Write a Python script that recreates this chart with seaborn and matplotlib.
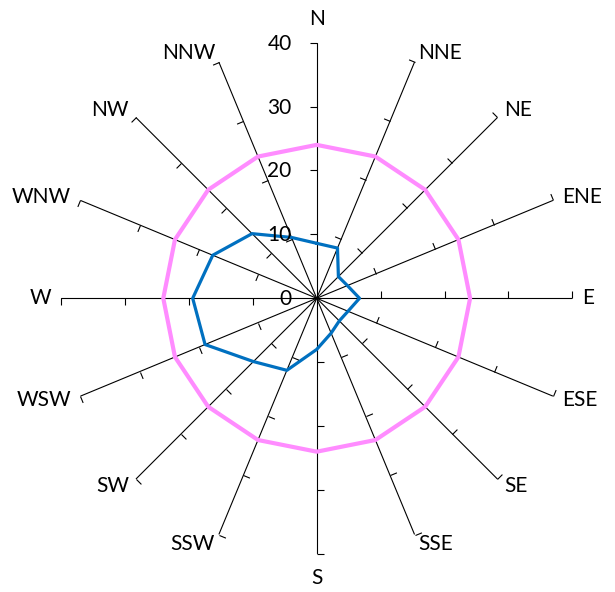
import numpy as np
import pandas as pd
import matplotlib
matplotlib.use("Agg")
import matplotlib.pyplot as plt
from matplotlib.markers import MarkerStyle
from matplotlib.path import Path
from matplotlib.transforms import Affine2D, offset_copy
import seaborn as sns

# ------------------ DATA ------------------
directions = ["N", "NNE", "NE", "ENE", "E", "ESE", "SE", "SSE",
              "S", "SSW", "SW", "WSW", "W", "WNW", "NW", "NNW"]
blue_vals = [8.6, 8.5, 4.8, 5.2, 6.7, 5.3, 5.0, 5.9,
             8.0, 12.2, 14.0, 18.9, 19.4, 17.6, 14.3, 10.3]
pink_vals = [24, 24, 24, 24, 24, 24, 24, 24,
             24, 24, 24, 24, 24, 24, 24, 24]
r_ticks = [0, 10, 20, 30, 40]

# ------------------ STYLE ------------------
sns.set_theme(style="white")
plt.rcParams["font.family"] = ["Lato", "DejaVu Sans"]

fig = plt.figure(figsize=(6.15, 5.92), dpi=100)
ax = fig.add_axes([0.0992, 0.0642, 0.8315, 0.8639], projection="polar")
ax.set_theta_zero_location("N")
ax.set_theta_direction(-1)
ax.set_ylim(0, 40)

angles = np.arange(len(directions)) * 2 * np.pi / len(directions)

# spokes from the theta grid
ax.set_xticks(angles)
ax.set_xticklabels([])
ax.set_yticks([])
ax.xaxis.grid(True, color="black", lw=0.8)
ax.tick_params(axis="x", length=0)
ax.spines["polar"].set_visible(False)
ax.patch.set_visible(False)

# ------------------ SERIES ------------------
def closed(vals):
    return pd.DataFrame({"theta": np.append(angles, 2 * np.pi),
                         "r": list(vals) + [vals[0]]})

sns.lineplot(data=closed(pink_vals), x="theta", y="r", sort=False,
             color="#FF8CFF", lw=3, ax=ax, legend=False)
sns.lineplot(data=closed(blue_vals), x="theta", y="r", sort=False,
             color="#0070C0", lw=2.3, ax=ax, legend=False)
ax.set_xlabel("")
ax.set_ylabel("")

# ------------------ TICK MARKS ------------------
for a in angles:
    m = MarkerStyle(Path([(0, 0), (-1, 0)]),
                    transform=Affine2D().rotate_deg(-np.degrees(a)))
    ax.plot([a] * (len(r_ticks) - 1), r_ticks[1:], ls="none", marker=m,
            ms=10, mec="black", mew=0.8, clip_on=False)

# ------------------ LABELS ------------------
for v in r_ticks:
    tr = offset_copy(ax.transData, fig=fig, x=-25, y=-1, units="dots")
    ax.text(0, v, str(v), transform=tr, ha="right", va="center",
            fontsize=15, color="black")

for a, name in zip(angles, directions):
    s, c = np.sin(a), np.cos(a)
    if abs(s) < 0.1:
        ha = "center"
        va = "bottom" if c > 0 else "top"
        d = 14
    else:
        ha = "left" if s > 0 else "right"
        va = "center"
        d = 10
    tr = offset_copy(ax.transData, fig=fig, x=d * s, y=d * c, units="dots")
    ax.text(a, 40, name, transform=tr, ha=ha, va=va, fontsize=15,
            color="black")

fig.savefig("out.png", dpi=100)
